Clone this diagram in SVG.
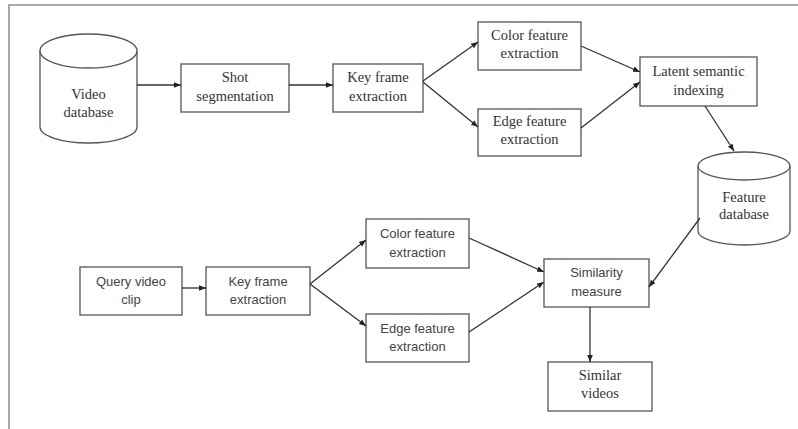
<svg xmlns="http://www.w3.org/2000/svg" width="798" height="429" viewBox="0 0 798 429">
<defs>
<marker id="ah" viewBox="0 0 10 10" refX="10" refY="5" markerWidth="7" markerHeight="7" markerUnits="userSpaceOnUse" orient="auto">
<path d="M0,1 L10,5 L0,9 Z" fill="#222"/>
</marker>
<style>
.box{fill:#fff;stroke:#555;stroke-width:1.3}
.cyl{fill:#fff;stroke:#555;stroke-width:1.3}
.serif{font-family:"Liberation Serif","Times New Roman",serif;font-size:14.5px;fill:#333;text-anchor:middle}
.sans{font-family:"Liberation Sans",Arial,sans-serif;font-size:13px;fill:#444;text-anchor:middle}
.conn line{stroke:#333;stroke-width:1.3;marker-end:url(#ah)}
</style>
</defs>
<rect width="798" height="429" fill="#fff"/>
<path d="M9,429 L9,5 L798,5" fill="none" stroke="#aaa" stroke-width="2"/>

<g id="video-db">
<path class="cyl" d="M40,51 L40,127 A48.5,16 0 0 0 137,127 L137,51"/>
<ellipse class="cyl" cx="88.5" cy="51" rx="48.5" ry="17"/>
<text class="serif" x="88.5" y="99">Video</text>
<text class="serif" x="88.5" y="117">database</text>
</g>

<g id="shot-seg">
<rect class="box" x="181" y="64" width="108" height="48"/>
<text class="serif" x="235" y="82">Shot</text>
<text class="serif" x="235" y="101">segmentation</text>
</g>

<g id="key-frame-1">
<rect class="box" x="333" y="64" width="90" height="48"/>
<text class="serif" x="378" y="82">Key frame</text>
<text class="serif" x="378" y="101">extraction</text>
</g>

<g id="color-1">
<rect class="box" x="478" y="22" width="103" height="48"/>
<text class="serif" x="529.5" y="40">Color feature</text>
<text class="serif" x="529.5" y="58">extraction</text>
</g>

<g id="edge-1">
<rect class="box" x="478" y="109" width="103" height="47"/>
<text class="serif" x="529.5" y="126">Edge feature</text>
<text class="serif" x="529.5" y="144">extraction</text>
</g>

<g id="lsi">
<rect class="box" x="640" y="57" width="117" height="49"/>
<text class="serif" x="698.5" y="76">Latent semantic</text>
<text class="serif" x="698.5" y="95">indexing</text>
</g>

<g id="feature-db">
<path class="cyl" d="M698,166 L698,231 A46,14 0 0 0 790,231 L790,166"/>
<ellipse class="cyl" cx="744" cy="166" rx="46" ry="14"/>
<text class="serif" x="744" y="202">Feature</text>
<text class="serif" x="744" y="219">database</text>
</g>

<g id="query">
<rect class="box" x="80" y="267" width="102" height="48"/>
<text class="sans" x="131" y="286">Query video</text>
<text class="sans" x="131" y="304">clip</text>
</g>

<g id="key-frame-2">
<rect class="box" x="206" y="267" width="104" height="48"/>
<text class="sans" x="258" y="286">Key frame</text>
<text class="sans" x="258" y="304">extraction</text>
</g>

<g id="color-2">
<rect class="box" x="366" y="219" width="103" height="49"/>
<text class="sans" x="417.5" y="238">Color feature</text>
<text class="sans" x="417.5" y="257">extraction</text>
</g>

<g id="edge-2">
<rect class="box" x="366" y="314" width="103" height="48"/>
<text class="sans" x="417.5" y="333">Edge feature</text>
<text class="sans" x="417.5" y="351">extraction</text>
</g>

<g id="similarity">
<rect class="box" x="544" y="259" width="105" height="48"/>
<text class="sans" x="596.5" y="277">Similarity</text>
<text class="sans" x="596.5" y="296">measure</text>
</g>

<g id="similar-videos">
<rect class="box" x="548" y="362" width="104" height="49"/>
<text class="serif" x="600" y="380">Similar</text>
<text class="serif" x="600" y="398">videos</text>
</g>

<g id="connectors" class="conn">
<line x1="137" y1="85" x2="181" y2="85"/>
<line x1="289" y1="85" x2="333" y2="85"/>
<line x1="423" y1="81" x2="478" y2="42"/>
<line x1="423" y1="82" x2="478" y2="127"/>
<line x1="581" y1="46" x2="640" y2="72"/>
<line x1="581" y1="128" x2="640" y2="82"/>
<line x1="705" y1="106" x2="734" y2="151"/>
<line x1="182" y1="288" x2="206" y2="288"/>
<line x1="310" y1="284" x2="366" y2="240"/>
<line x1="310" y1="284" x2="366" y2="326"/>
<line x1="469" y1="238" x2="544" y2="272"/>
<line x1="469" y1="332" x2="544" y2="282"/>
<line x1="700" y1="218" x2="649" y2="287"/>
<line x1="590" y1="307" x2="590" y2="362"/>
</g>
</svg>
